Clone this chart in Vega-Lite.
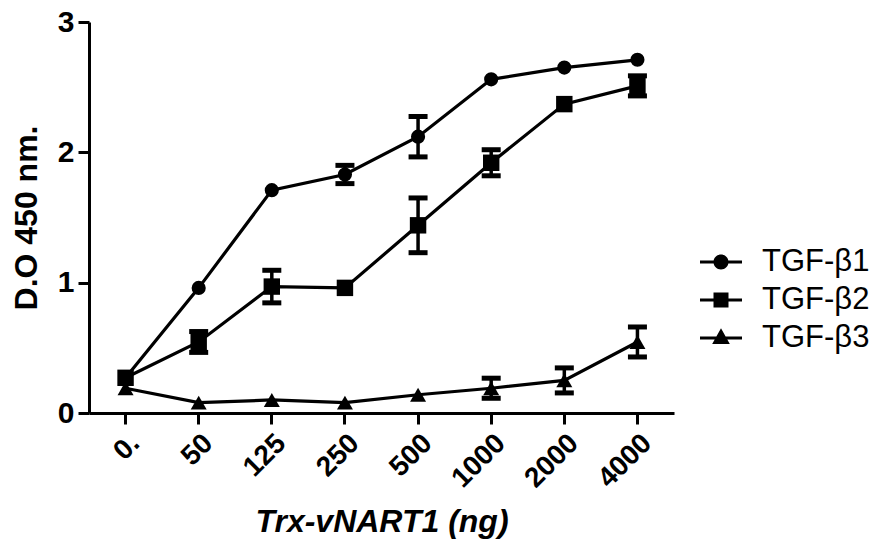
{
  "$schema": "https://vega.github.io/schema/vega-lite/v6.json",
  "width": 585,
  "height": 391,
  "autosize": {"type": "none"},
  "padding": {"left": 89, "top": 22, "right": 204, "bottom": 128},
  "background": "white",
  "config": {
    "font": "Liberation Sans",
    "view": {"stroke": null},
    "axis": {
      "grid": false,
      "domainColor": "black",
      "domainWidth": 3,
      "tickColor": "black",
      "tickWidth": 3,
      "tickSize": 11,
      "labelColor": "black",
      "titleColor": "black",
      "labelFont": "Liberation Sans",
      "titleFont": "Liberation Sans"
    }
  },
  "data": {
    "values": [
      {"series": "TGF-β1", "dose": "0.", "od": 0.27, "sem": 0},
      {"series": "TGF-β1", "dose": "50", "od": 0.96, "sem": 0},
      {"series": "TGF-β1", "dose": "125", "od": 1.71, "sem": 0},
      {"series": "TGF-β1", "dose": "250", "od": 1.83, "sem": 0.07},
      {"series": "TGF-β1", "dose": "500", "od": 2.12, "sem": 0.155},
      {"series": "TGF-β1", "dose": "1000", "od": 2.56, "sem": 0},
      {"series": "TGF-β1", "dose": "2000", "od": 2.65, "sem": 0},
      {"series": "TGF-β1", "dose": "4000", "od": 2.71, "sem": 0},
      {"series": "TGF-β2", "dose": "0.", "od": 0.27, "sem": 0},
      {"series": "TGF-β2", "dose": "50", "od": 0.545, "sem": 0.08},
      {"series": "TGF-β2", "dose": "125", "od": 0.97, "sem": 0.125},
      {"series": "TGF-β2", "dose": "250", "od": 0.96, "sem": 0},
      {"series": "TGF-β2", "dose": "500", "od": 1.44, "sem": 0.21},
      {"series": "TGF-β2", "dose": "1000", "od": 1.92, "sem": 0.1},
      {"series": "TGF-β2", "dose": "2000", "od": 2.37, "sem": 0},
      {"series": "TGF-β2", "dose": "4000", "od": 2.51, "sem": 0.077},
      {"series": "TGF-β3", "dose": "0.", "od": 0.19, "sem": 0},
      {"series": "TGF-β3", "dose": "50", "od": 0.08, "sem": 0},
      {"series": "TGF-β3", "dose": "125", "od": 0.1, "sem": 0},
      {"series": "TGF-β3", "dose": "250", "od": 0.08, "sem": 0},
      {"series": "TGF-β3", "dose": "500", "od": 0.14, "sem": 0},
      {"series": "TGF-β3", "dose": "1000", "od": 0.19, "sem": 0.077},
      {"series": "TGF-β3", "dose": "2000", "od": 0.25, "sem": 0.096},
      {"series": "TGF-β3", "dose": "4000", "od": 0.545, "sem": 0.115}
    ]
  },
  "encoding": {
    "x": {
      "field": "dose",
      "type": "ordinal",
      "sort": ["0.", "50", "125", "250", "500", "1000", "2000", "4000"],
      "axis": {
        "title": "Trx-vNART1 (ng)",
        "labelAngle": -45,
        "labelFontSize": 28,
        "labelFontWeight": "bold",
        "labelPadding": 5,
        "titleFontSize": 32,
        "titleFontWeight": "bold",
        "titleFontStyle": "italic",
        "titlePadding": 14
      }
    },
    "y": {
      "field": "od",
      "type": "quantitative",
      "scale": {"domain": [0, 3], "nice": false, "zero": true},
      "axis": {
        "title": "D.O 450 nm.",
        "values": [0, 1, 2, 3],
        "format": "d",
        "labelFontSize": 30,
        "labelFontWeight": "bold",
        "labelPadding": 4,
        "titleFontSize": 32,
        "titleFontWeight": "bold",
        "titlePadding": 14
      }
    }
  },
  "layer": [
    {
      "mark": {"type": "line", "color": "black", "strokeWidth": 3.2},
      "encoding": {"detail": {"field": "series"}}
    },
    {
      "transform": [{"filter": "datum.sem > 0"}],
      "mark": {
        "type": "errorbar",
        "color": "black",
        "opacity": 1,
        "thickness": 3.5,
        "rule": {"opacity": 1, "color": "black"},
        "ticks": {"size": 19, "thickness": 5, "color": "black", "opacity": 1}
      },
      "encoding": {"yError": {"field": "sem"}, "detail": {"field": "series"}}
    },
    {
      "transform": [{"filter": "datum.series == 'TGF-β1'"}],
      "mark": {"type": "point", "shape": "circle", "filled": true, "color": "black", "opacity": 1, "size": 200}
    },
    {
      "transform": [{"filter": "datum.series == 'TGF-β2'"}],
      "mark": {"type": "point", "shape": "square", "filled": true, "color": "black", "opacity": 1, "size": 270}
    },
    {
      "transform": [{"filter": "datum.series == 'TGF-β3'"}],
      "mark": {"type": "point", "shape": "triangle-up", "filled": true, "color": "black", "opacity": 1, "size": 256}
    },
    {
      "mark": {"type": "point", "filled": true, "color": "black", "opacity": 0},
      "encoding": {
        "shape": {
          "field": "series",
          "type": "nominal",
          "scale": {
            "domain": ["TGF-β1", "TGF-β2", "TGF-β3"],
            "range": [
              "M-1,-0.072L1,-0.072L1,0.072L-1,0.072Z M0.357,0 A0.357,0.357 0 1,1 -0.357,0 A0.357,0.357 0 1,1 0.357,0 Z",
              "M-1,-0.072L1,-0.072L1,0.072L-1,0.072Z M-0.357,-0.357 L0.357,-0.357 L0.357,0.357 L-0.357,0.357 Z",
              "M-1,-0.072L1,-0.072L1,0.072L-1,0.072Z M0,-0.47 L0.42,0.28 L-0.42,0.28 Z"
            ]
          },
          "legend": {
            "title": null,
            "orient": "none",
            "legendX": 611,
            "legendY": 219,
            "symbolSize": 1764,
            "labelFontSize": 31,
            "labelFont": "Liberation Sans",
            "labelColor": "black",
            "labelOffset": 20,
            "labelLimit": 300,
            "rowPadding": 2,
            "padding": 0,
            "symbolOpacity": 1,
            "symbolFillColor": "black",
            "symbolStrokeWidth": 0,
            "encode": {
              "symbols": {
                "update": {
                  "opacity": {"value": 1},
                  "fillOpacity": {"value": 1},
                  "fill": {"value": "black"},
                  "strokeWidth": {"value": 0},
                  "size": {"value": 1764}
                }
              }
            }
          }
        }
      }
    }
  ]
}
